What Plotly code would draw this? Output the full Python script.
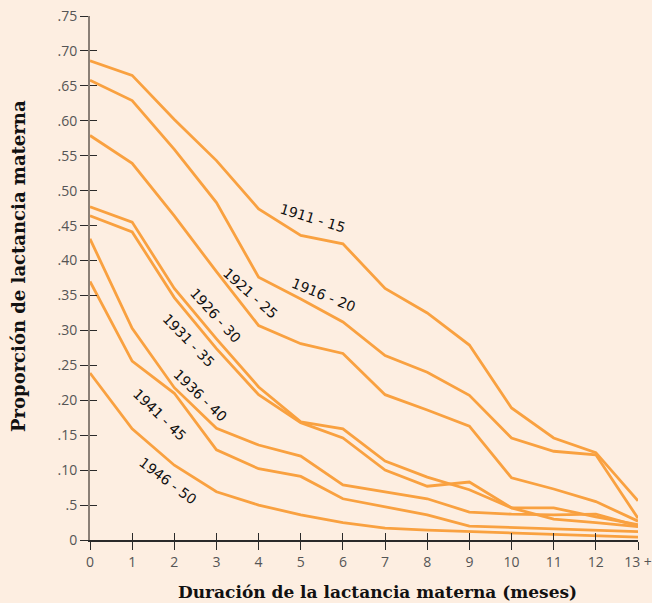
import plotly.graph_objects as go

# ---- data ----
months = list(range(14))
x_tick_labels = ["0", "1", "2", "3", "4", "5", "6", "7", "8", "9", "10", "11", "12", "13 +"]
y_tick_values = [0, 0.05, 0.10, 0.15, 0.20, 0.25, 0.30, 0.35, 0.40, 0.45, 0.50, 0.55, 0.60, 0.65, 0.70, 0.75]
y_tick_labels = ["0", ".5", ".10", ".15", ".20", ".25", ".30", ".35", ".40", ".45", ".50", ".55", ".60", ".65", ".70", ".75"]

cohort_names = ["1911 - 15", "1916 - 20", "1921 - 25", "1926 - 30",
                "1931 - 35", "1936 - 40", "1941 - 45", "1946 - 50"]

c1911 = [0.686, 0.665, 0.602, 0.543, 0.474, 0.436, 0.424, 0.360, 0.325, 0.279, 0.189, 0.146, 0.125, 0.056]
c1916 = [0.658, 0.629, 0.559, 0.483, 0.376, 0.345, 0.312, 0.264, 0.240, 0.207, 0.146, 0.127, 0.122, 0.031]
c1921 = [0.579, 0.539, 0.464, 0.384, 0.307, 0.281, 0.267, 0.208, 0.186, 0.163, 0.089, 0.073, 0.055, 0.027]
c1926 = [0.477, 0.455, 0.360, 0.288, 0.219, 0.169, 0.159, 0.113, 0.090, 0.072, 0.046, 0.046, 0.033, 0.022]
c1931 = [0.464, 0.441, 0.347, 0.274, 0.208, 0.168, 0.146, 0.100, 0.077, 0.083, 0.046, 0.030, 0.025, 0.019]
c1936 = [0.431, 0.303, 0.218, 0.160, 0.136, 0.120, 0.079, 0.069, 0.059, 0.040, 0.037, 0.036, 0.037, 0.020]
c1941 = [0.370, 0.256, 0.210, 0.129, 0.102, 0.091, 0.059, 0.047, 0.036, 0.020, 0.018, 0.017, 0.015, 0.012]
c1946 = [0.239, 0.159, 0.107, 0.069, 0.050, 0.036, 0.025, 0.017, 0.014, 0.012, 0.010, 0.009, 0.007, 0.004]

series = [c1911, c1916, c1921, c1926, c1931, c1936, c1941, c1946]

# label placement (x in months, y in proportion, rotation in degrees)
label_x = [5.27, 5.55, 3.80, 2.97, 2.33, 2.61, 1.66, 1.85]
label_y = [0.461, 0.351, 0.354, 0.322, 0.286, 0.208, 0.179, 0.084]
label_angle = [17, 22, 42, 48, 46, 44, 44, 37]

x_title = "Duración de la lactancia materna (meses)"
y_title = "Proporción de lactancia materna"

# ---- styling ----
BG = "#FDEEE1"
LINE = "#F9A140"
TICKC = "#2a2a2a"
LABELC = "#555555"

fig = go.Figure()
for name, vals in zip(cohort_names, series):
    fig.add_trace(go.Scatter(x=months, y=vals, mode="lines", name=name,
                             line=dict(color=LINE, width=2.8), hoverinfo="skip"))

# invisible trace on overlay axes (for ticks crossing the axis lines)
fig.add_trace(go.Scatter(x=[0], y=[0], xaxis="x2", yaxis="y2", mode="markers",
                         marker=dict(opacity=0), showlegend=False, hoverinfo="skip"))

for name, lx, ly, ang in zip(cohort_names, label_x, label_y, label_angle):
    fig.add_annotation(x=lx, y=ly, text=name, textangle=ang, showarrow=False,
                       font=dict(family="DejaVu Sans", size=14, color="#111111"))

# axis titles
fig.add_annotation(xref="paper", yref="paper", x=0.5255, y=-0.0992, text=x_title,
                   showarrow=False, xanchor="center", yanchor="middle",
                   font=dict(family="DejaVu Serif", size=17, color="#111111", weight="bold"))
fig.add_annotation(xref="paper", yref="paper", x=-0.1295, y=0.523, text=y_title,
                   textangle=-90, showarrow=False, xanchor="center", yanchor="middle",
                   font=dict(family="DejaVu Serif", size=18, color="#111111", weight="bold"))

fig.update_layout(
    width=652, height=603,
    paper_bgcolor=BG, plot_bgcolor=BG,
    margin=dict(l=90, r=14, t=16, b=63, autoexpand=False),
    showlegend=False,
    xaxis=dict(range=[0, 13], tickvals=months, ticktext=x_tick_labels,
               showgrid=False, zeroline=False, automargin=False,
               showline=True, linecolor=TICKC, linewidth=1.5,
               ticks="outside", ticklen=8, tickwidth=1.3, tickcolor=TICKC,
               tickfont=dict(family="Open Sans", size=14, color=LABELC)),
    yaxis=dict(range=[0, 0.75], tickvals=y_tick_values, ticktext=y_tick_labels,
               showgrid=False, zeroline=False, automargin=False,
               showline=True, linecolor="#8a7f76", linewidth=2,
               ticks="outside", ticklen=8, tickwidth=1.3, tickcolor=TICKC,
               tickfont=dict(family="Open Sans", size=14, color=LABELC)),
    xaxis2=dict(range=[0, 13], tickvals=months, overlaying="x", anchor="y2",
                showticklabels=False, showgrid=False, zeroline=False, showline=False,
                ticks="inside", ticklen=7, tickwidth=1.3, tickcolor=TICKC),
    yaxis2=dict(range=[0, 0.75], tickvals=y_tick_values, overlaying="y", anchor="x2",
                showticklabels=False, showgrid=False, zeroline=False, showline=False,
                ticks="inside", ticklen=7, tickwidth=1.3, tickcolor=TICKC),
)

fig.write_html(
    "out.html",
    config={"displayModeBar": False},
    post_script="document.body.style.margin='0';document.body.style.background='" + BG + "';",
)
